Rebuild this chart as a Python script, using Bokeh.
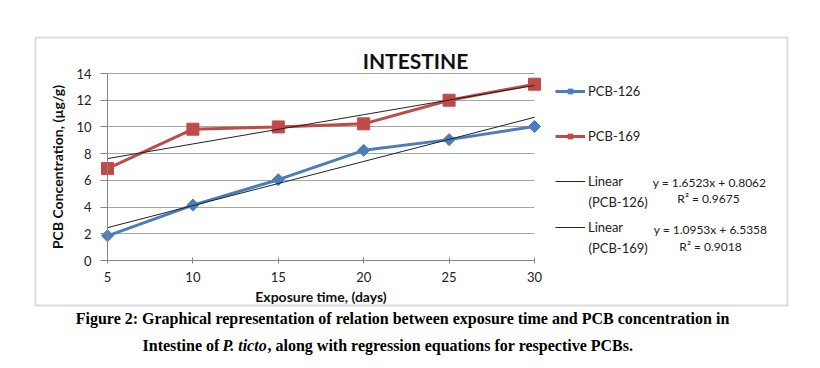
from bokeh.plotting import figure
from bokeh.models import (Label, Legend, LegendItem, FixedTicker, BoxAnnotation,
                          Range1d, LinearAxis, Grid)
from bokeh.embed import file_html
from bokeh.resources import INLINE
import numpy as np

# ---- data ----
days = [5, 10, 15, 20, 25, 30]
pcb126 = [1.85, 4.15, 6.05, 8.25, 9.05, 10.03]
pcb169 = [6.88, 9.83, 10.0, 10.23, 12.0, 13.2]
# regression coefficients (Excel, x = category index 1..6)
slope126, icpt126, r2_126 = 1.6523, 0.8062, 0.9675
slope169, icpt169, r2_169 = 1.0953, 6.5358, 0.9018
y_ticks = [0, 2, 4, 6, 8, 10, 12, 14]

idx = np.arange(1, len(days) + 1)
trend126 = slope126 * idx + icpt126
trend169 = slope169 * idx + icpt169

FONT = "Lato"
SERIF = "Liberation Serif"
BLUE = "#4a7ebb"
RED = "#be4b48"
W, H = 812, 360

# canvas pixel -> data coordinate (plot area: x 107..534, y 73..260)
PX0, PX1, PY0, PY1 = 107, 534, 260, 73
def dx(px):
    return days[0] + (px - PX0) * (days[-1] - days[0]) / (PX1 - PX0)
def dy(py):
    return y_ticks[0] + (PY0 - py) * (y_ticks[-1] - y_ticks[0]) / (PY0 - PY1)

p = figure(width=W, height=H, output_backend="svg", toolbar_location=None,
           x_axis_type=None, y_axis_type=None,
           x_range=Range1d(dx(0), dx(W)), y_range=Range1d(dy(H), dy(0)),
           min_border=0, background_fill_color="white",
           border_fill_color="white", outline_line_color=None)

# outer chart border
p.add_layout(BoxAnnotation(left=dx(35), right=dx(787), top=dy(37), bottom=dy(305),
                           fill_color=None, line_color="#8c8c8c", line_width=2))

# grid lines limited to the plot area
g = Grid(dimension=1, ticker=FixedTicker(ticks=y_ticks[1:]),
         grid_line_color="#a6a6a6", grid_line_width=1)
if "cross_bounds" in g.properties():
    g.cross_bounds = (days[0], days[-1])
    p.add_layout(g)
else:
    p.segment(x0=[days[0]] * 7, x1=[days[-1]] * 7, y0=y_ticks[1:], y1=y_ticks[1:],
              line_color="#a6a6a6", line_width=1)

# axes drawn at fixed locations
xa = LinearAxis(fixed_location=0, bounds=(days[0], days[-1]),
                ticker=FixedTicker(ticks=days))
xa.axis_line_color = "#868686"
xa.major_tick_line_color = "#868686"
xa.major_tick_in = 3
xa.major_tick_out = 3
xa.minor_tick_line_color = None
xa.major_label_standoff = 8
xa.major_label_text_font = FONT
xa.major_label_text_font_size = "13px"
xa.major_label_text_color = "#222222"
xa.axis_label = "Exposure time, (days)"
xa.axis_label_text_font = FONT
xa.axis_label_text_font_style = "bold"
xa.axis_label_text_font_size = "14px"
xa.axis_label_text_color = "#111111"
xa.axis_label_standoff = 3
p.add_layout(xa, "below")

ya = LinearAxis(fixed_location=days[0], bounds=(0, 14),
                ticker=FixedTicker(ticks=y_ticks))
ya.axis_line_color = "#868686"
ya.major_tick_line_color = "#868686"
ya.major_tick_in = 0
ya.major_tick_out = 7
ya.minor_tick_line_color = None
ya.major_label_standoff = 9
ya.major_label_text_font = FONT
ya.major_label_text_font_size = "13px"
ya.major_label_text_color = "#222222"
ya.axis_label = "PCB Concentration, (\u00b5g/g)"
ya.axis_label_text_font = FONT
ya.axis_label_text_font_style = "bold"
ya.axis_label_text_font_size = "14px"
ya.axis_label_text_color = "#111111"
ya.axis_label_standoff = 7
p.add_layout(ya, "left")

# data lines
p.line(days, pcb126, line_color=BLUE, line_width=3)
r126 = p.scatter(days, pcb126, marker="square", size=8.5, angle=np.pi / 4,
                 fill_color=BLUE, line_color=BLUE)
p.line(days, pcb169, line_color=RED, line_width=3)
r169 = p.scatter(days, pcb169, marker="square", size=12,
                 fill_color=RED, line_color=RED)
# trend lines
t126 = p.line(days, trend126, line_color="#222222", line_width=1)
t169 = p.line(days, trend169, line_color="#222222", line_width=1)
l126 = p.line(days, pcb126, line_color=BLUE, line_width=3, visible=False)
l169 = p.line(days, pcb169, line_color=RED, line_width=3, visible=False)

# title
p.add_layout(Label(x=dx(415), y=dy(60), text="INTESTINE", text_font=FONT,
                   text_font_style="bold", text_font_size="21px",
                   text_align="center", text_baseline="middle",
                   text_color="#111111"))

# legends (one per entry to place exactly); location in frame pixels from bottom-left
def add_leg(label, renderers, px_left, py_mid):
    leg = Legend(items=[LegendItem(label=label, renderers=renderers)],
                 location=(px_left, H - py_mid - 6),
                 padding=0, margin=0, spacing=0, border_line_color=None,
                 background_fill_alpha=0, glyph_width=30, glyph_height=12,
                 label_height=12, label_standoff=3, label_text_font=FONT,
                 label_text_font_size="13px", label_text_color="#222222")
    p.add_layout(leg, "center")

add_leg("PCB-126", [l126, r126], 555, 93)
add_leg("PCB-169", [l169, r169], 555, 138)
add_leg("Linear", [t126], 555, 183)
add_leg("Linear", [t169], 555, 229)

def lab(text, px, py, size="13px", align="left", font=FONT, style="normal",
        color="#222222"):
    p.add_layout(Label(x=dx(px), y=dy(py), text=text, text_font=font,
                       text_font_size=size, text_font_style=style,
                       text_align=align, text_baseline="middle",
                       text_color=color))

lab("(PCB-126)", 588, 201)
lab("(PCB-169)", 588, 247)
lab(f"y = {slope126}x + {icpt126}", 709, 182, size="12px", align="center")
lab(f"R\u00b2 = {r2_126}", 708, 198, size="12px", align="center")
lab(f"y = {slope169}x + {icpt169}", 710, 229, size="12px", align="center")
lab(f"R\u00b2 = {r2_169}", 710, 246, size="12px", align="center")

# caption
lab("Figure 2: Graphical representation  of relation between exposure time and PCB concentration in",
    404, 318, size="16px", align="center", font=SERIF, style="bold", color="#000000")
lab("Intestine of", 142, 345, size="16px", font=SERIF, style="bold", color="#000000")
lab("P. ticto", 222, 345, size="16px", font=SERIF, style="bold italic", color="#000000")
lab(", along with regression equations for respective PCBs.", 267, 345,
    size="16px", font=SERIF, style="bold", color="#000000")

open("out.html", "w").write(file_html(p, INLINE))
